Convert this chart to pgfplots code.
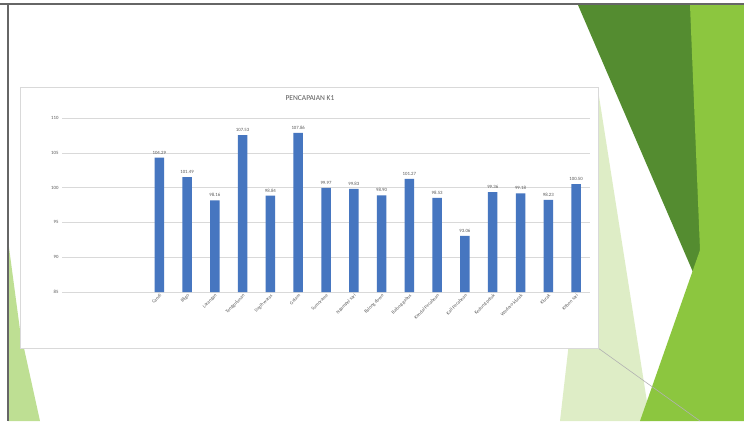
\documentclass[border=0pt]{standalone}
\usepackage{pgfplots}
\pgfplotsset{compat=1.18}
\usepackage{fontspec}
\setmainfont{Carlito}

\definecolor{barblue}{RGB}{70,118,192}
\definecolor{gridgray}{RGB}{217,217,217}
\definecolor{txtgray}{RGB}{89,89,89}
\definecolor{dkgreen}{RGB}{84,140,48}
\definecolor{lime}{RGB}{140,198,63}
\definecolor{ltgreen}{RGB}{200,226,160}

\pgfplotstableread{
x  val    name
0  104.29 {Candi}
1  101.49 {Bligo}
2  98.16  {Larangan}
3  107.53 {Tenggulunan}
4  98.84  {Sugih waras}
5  107.86 {Gelam}
6  99.97  {Sumorame}
7  99.83  {Ngampel sari}
8  98.90  {Balong dowo}
9  101.27 {Balong gabus}
10 98.53  {Kendal Pecabean}
11 93.06  {Kali Pecabean}
12 99.36  {Kedung peluk}
13 99.18  {Wedoro klurak}
14 98.23  {Klurak}
15 100.50 {Kebon sari}
}\kone

\begin{document}
\begin{tikzpicture}[x=1pt,y=1pt]
\useasboundingbox (0,0) rectangle (744,421);
\fill[white] (0,0) rectangle (744,421);
% slide decoration, drawn with y measured from the top
\begin{scope}[yshift=421pt, yscale=-1]
\fill[ltgreen,opacity=0.6] (598,90) -- (650,421) -- (560,421) -- cycle;
\fill[dkgreen] (578,5) -- (700,5) -- (705,300) -- cycle;
\fill[lime] (690,5) -- (744,5) -- (744,421) -- (640,421) -- (700,250) -- cycle;
\fill[lime!70!white,opacity=0.8] (8,240) -- (20,330) -- (40,421) -- (8,421) -- cycle;
\draw[gray!60,line width=0.6pt] (598,348) -- (700,421);
\draw[gray!80!black,line width=2pt] (0,4) -- (744,4);
\draw[gray!80!black,line width=2pt] (8,4) -- (8,421);
\draw[gray!30,fill=white] (20,87) rectangle (598,348);
\node[font=\fontsize{7.5}{8}\selectfont,text=txtgray] at (310,98) {PENCAPAIAN K1};
\end{scope}
\begin{axis}[
  at={(62pt,129pt)}, anchor=south west,
  scale only axis, width=528pt, height=174pt,
  ymin=85, ymax=110, ytick={85,90,...,110},
  xmin=-3.5, xmax=15.5,
  xtick=data, xticklabels from table={\kone}{name},
  x tick label style={rotate=45, anchor=north east, font=\fontsize{4.8}{5}\selectfont, text=txtgray, inner sep=1pt},
  y tick label style={font=\fontsize{4.8}{5}\selectfont, text=txtgray},
  /pgf/number format/assume math mode=true,
  ymajorgrids, grid style={gridgray, line width=0.6pt},
  axis line style={draw=none}, major tick length=0pt,
  ybar, bar width=9.5pt,
  nodes near coords,
  nodes near coords style={font=\fontsize{4.8}{5}\selectfont, text=txtgray,
    /pgf/number format/.cd, fixed, fixed zerofill, precision=2},
  clip=false,
]
\addplot[fill=barblue, draw=none] table[x=x, y=val] {\kone};
\end{axis}
\end{tikzpicture}
\end{document}
